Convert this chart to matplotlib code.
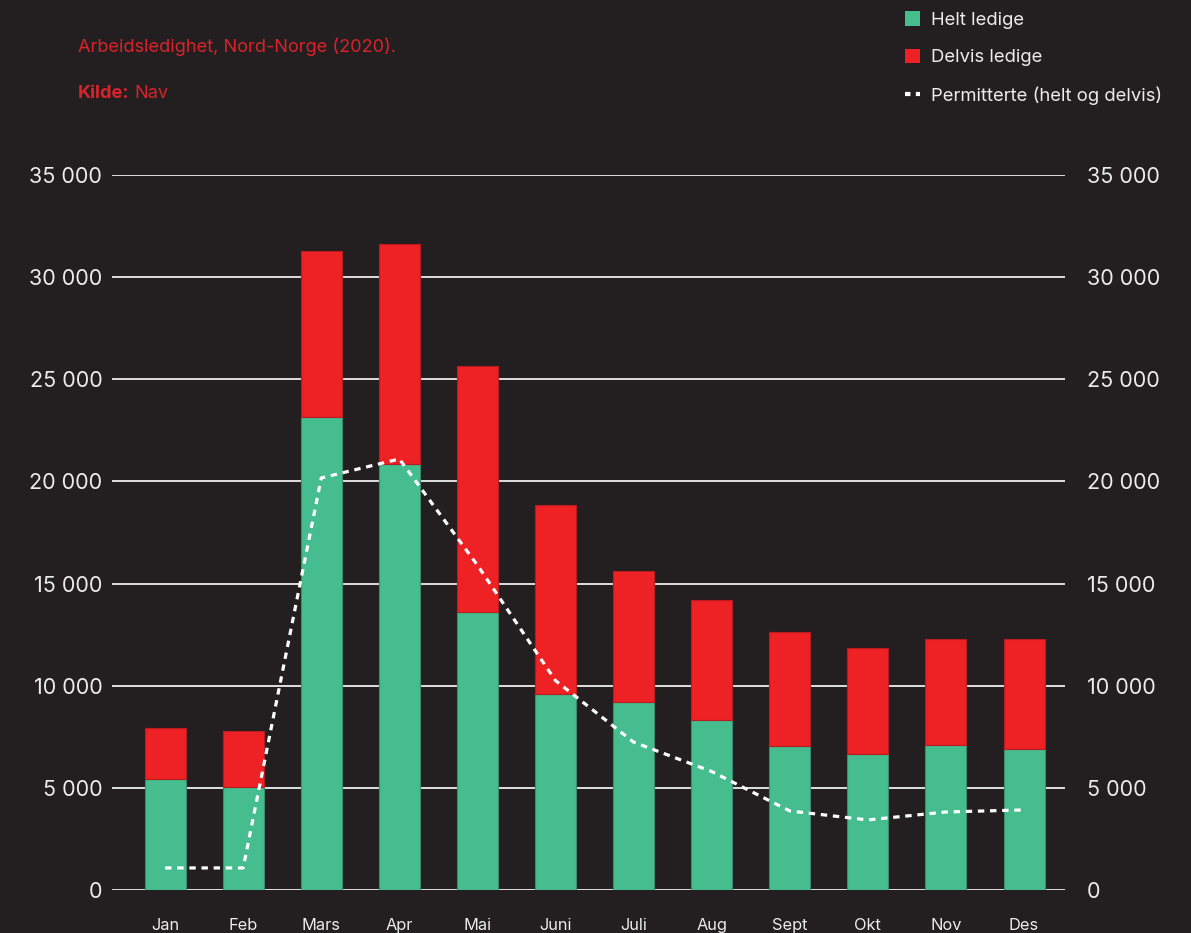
import matplotlib
matplotlib.use("Agg")
import matplotlib.pyplot as plt
from matplotlib.patches import Patch
from matplotlib.lines import Line2D
from matplotlib.ticker import FuncFormatter

plt.rcParams['font.family'] = ['Inter', 'DejaVu Sans']

months = ['Jan', 'Feb', 'Mars', 'Apr', 'Mai', 'Juni', 'Juli', 'Aug', 'Sept', 'Okt', 'Nov', 'Des']
helt_ledige = [5430, 5040, 23150, 20850, 13610, 9590, 9200, 8320, 7050, 6660, 7100, 6900]
delvis_ledige = [2500, 2740, 8130, 10770, 12040, 9250, 6410, 5870, 5580, 5190, 5190, 5390]
permitterte = [1080, 1080, 20170, 21100, 15900, 10250, 7240, 5800, 3870, 3430, 3820, 3920]

bg = '#231f20'
green = '#45bd8f'
red = '#ee2124'
txt = '#ececec'
red_txt = '#d9232b'

fig = plt.figure(figsize=(11.91, 9.33), dpi=100, facecolor=bg)
ax = fig.add_axes([112/1191, 1-890/933, (1065-112)/1191, (890-175)/933])
ax.set_facecolor(bg)

x = list(range(len(months)))
ax.bar(x, helt_ledige, width=0.525, color=green, edgecolor='#3b8c6c', linewidth=0.8, zorder=3)
ax.bar(x, delvis_ledige, width=0.525, bottom=helt_ledige, color=red, edgecolor='#b81c20',
       linewidth=0.8, zorder=3)
ax.plot(x, permitterte, color='white', linewidth=2.3, dashes=(2, 1.8), dash_capstyle='butt', zorder=4)

ax.set_xlim(-0.68, 11.525)
ax.set_ylim(0, 35000)
yt = list(range(0, 35001, 5000))
ax.set_yticks(yt)
ax.yaxis.grid(True, color='white', linewidth=1.2, zorder=0)
ax.set_axisbelow(True)
for s in ax.spines.values():
    s.set_visible(False)

fmt = FuncFormatter(lambda v, p: f"{v:,.0f}".replace(",", " "))
ax.yaxis.set_major_formatter(fmt)
ax.tick_params(axis='y', length=0, pad=7, labelsize=15.5, labelcolor=txt)
ax.set_xticks(x)
ax.set_xticklabels(months)
ax.tick_params(axis='x', length=0, pad=20, labelsize=11.8, labelcolor=txt)

ax2 = ax.twinx()
ax2.set_ylim(0, 35000)
ax2.set_yticks(yt)
ax2.yaxis.set_major_formatter(fmt)
ax2.tick_params(axis='y', length=0, pad=16, labelsize=15.5, labelcolor=txt)
for s in ax2.spines.values():
    s.set_visible(False)

fig.text(78/1191, 1-47/933, 'Arbeidsledighet, Nord-Norge (2020).', color=red_txt,
         fontsize=13.1, va='center', ha='left')
fig.text(78/1191, 1-93/933, 'Kilde:', color=red_txt, fontsize=13.1, fontweight='bold',
         va='center', ha='left')
fig.text(134/1191, 1-93/933, 'Nav', color=red_txt, fontsize=13.1, va='center', ha='left')

handles = [Patch(facecolor=green, edgecolor='none'),
           Patch(facecolor=red, edgecolor='none'),
           Line2D([0], [0], color='white', linewidth=3, dashes=(1.3, 1.3))]
labels = ['Helt ledige', 'Delvis ledige', 'Permitterte (helt og delvis)']
leg = fig.legend(handles, labels, loc='upper left', bbox_to_anchor=(898/1191, 1-4/933),
                 frameon=False, fontsize=13.3, labelcolor=txt, handlelength=0.8,
                 handleheight=0.8, handletextpad=0.6, labelspacing=1.08, borderaxespad=0)

fig.savefig('out.png', dpi=100, facecolor=bg)
